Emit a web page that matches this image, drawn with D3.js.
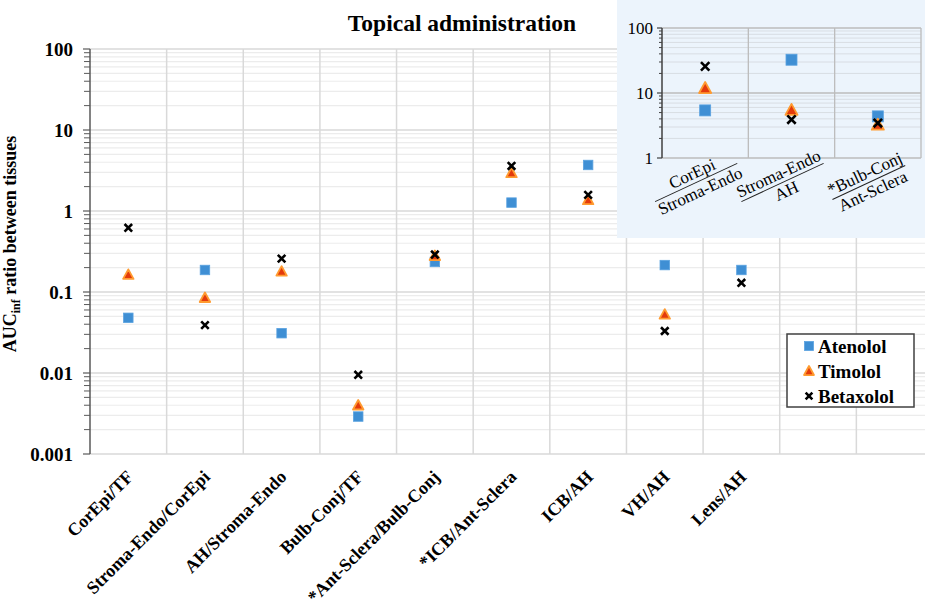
<!DOCTYPE html>
<html><head><meta charset="utf-8">
<script src="https://cdn.jsdelivr.net/npm/d3@7"></script>
<style>
body{margin:0;background:#fff}
svg{display:block}
text{font-family:"Liberation Serif","Times New Roman",serif;fill:#000}
</style>
</head><body><svg id="c" width="925" height="605"></svg>
<script>
// ---------- data ----------
const categories = ["CorEpi/TF","Stroma-Endo/CorEpi","AH/Stroma-Endo","Bulb-Conj/TF","*Ant-Sclera/Bulb-Conj","*ICB/Ant-Sclera","ICB/AH","VH/AH","Lens/AH"];
const atenolol  = [0.048, 0.187, 0.031, 0.0029, 0.235, 1.27, 3.7, 0.215, 0.187];
const timolol   = [0.164, 0.085, 0.18, 0.0040, 0.28, 2.95, 1.37, 0.053, null];
const betaxolol = [0.62, 0.039, 0.258, 0.0095, 0.29, 3.6, 1.58, 0.033, 0.13];
const yTicks = [0.001, 0.01, 0.1, 1, 10, 100];
const yTickLabels = ["0.001","0.01","0.1","1","10","100"];
const seriesNames = ["Atenolol","Timolol","Betaxolol"];

const insetNumerators   = ["CorEpi","Stroma-Endo","*Bulb-Conj"];
const insetDenominators = ["Stroma-Endo","AH","Ant-Sclera"];
const insetAtenolol  = [5.4, 32.5, 4.37];
const insetTimolol   = [11.9, 5.5, 3.25];
const insetBetaxolol = [25.7, 3.9, 3.45];
const insetTicks = [1, 10, 100];
const insetTickLabels = ["1","10","100"];

// ---------- setup ----------
const svg = d3.select("#c");
const nBands = 11;
const x = d3.scaleBand().domain(d3.range(nBands)).range([90, 933]).padding(0);
const y = d3.scaleLog().domain([0.001, 100]).range([454, 49]);

function minorValues(domain){
  const out=[];
  for(let d=domain[0]; d<domain[1]*0.999; d*=10){
    for(let k=2;k<=9;k++) out.push(d*k);
  }
  return out;
}

function marker(g, type, cx, cy, s){
  if(type===0){
    g.append("rect").attr("x",cx-s/2).attr("y",cy-s/2).attr("width",s).attr("height",s)
      .attr("fill","#3f8fd4").attr("stroke","#5aa2e0").attr("stroke-width",0.8);
  } else if(type===1){
    const h=s*1.0, w=s*1.1;
    g.append("path").attr("d",`M${cx},${cy-h*0.55}L${cx+w/2},${cy+h*0.45}L${cx-w/2},${cy+h*0.45}Z`)
      .attr("fill","#e33a0c").attr("stroke","#ff9b30").attr("stroke-width",1.8).attr("stroke-linejoin","round");
  } else {
    const r=s*0.42;
    g.append("path").attr("d",`M${cx-r},${cy-r}L${cx+r},${cy+r}M${cx-r},${cy+r}L${cx+r},${cy-r}`)
      .attr("stroke","#000").attr("stroke-width",2.6).attr("fill","none");
  }
}

// ---------- main chart ----------
const main = svg.append("g");
main.append("g").selectAll("line").data(minorValues([0.001,100])).join("line")
  .attr("x1",90).attr("x2",933).attr("y1",d=>y(d)).attr("y2",d=>y(d))
  .attr("stroke","#ececec").attr("stroke-width",1.2);
main.append("g").selectAll("line").data(yTicks).join("line")
  .attr("x1",90).attr("x2",933).attr("y1",d=>y(d)).attr("y2",d=>y(d))
  .attr("stroke","#d9d9d9").attr("stroke-width",1.5);
main.append("g").selectAll("line").data(d3.range(1,nBands+1)).join("line")
  .attr("x1",d=>x.range()[0]+d*x.bandwidth()).attr("x2",d=>x.range()[0]+d*x.bandwidth())
  .attr("y1",y(100)).attr("y2",y(0.001))
  .attr("stroke","#d9d9d9").attr("stroke-width",1.5);

// y axis
const yAxis = main.append("g").attr("transform","translate(90,0)");
yAxis.append("line").attr("x1",0).attr("x2",0).attr("y1",y(100)).attr("y2",y(0.001)).attr("stroke","#595959").attr("stroke-width",1.5);
yAxis.selectAll("line.maj").data(yTicks).join("line").attr("class","maj")
  .attr("x1",-7).attr("x2",0).attr("y1",d=>y(d)).attr("y2",d=>y(d)).attr("stroke","#595959").attr("stroke-width",1.2);
yAxis.selectAll("line.min").data(minorValues([0.001,100])).join("line").attr("class","min")
  .attr("x1",-6).attr("x2",0).attr("y1",d=>y(d)).attr("y2",d=>y(d)).attr("stroke","#595959").attr("stroke-width",1);
yAxis.selectAll("text").data(yTicks).join("text")
  .attr("x",-17).attr("y",d=>y(d)).attr("dy","0.35em").attr("text-anchor","end")
  .attr("font-size",19).attr("font-weight","bold").text((d,i)=>yTickLabels[i]);

// y title
const yt = main.append("text").attr("transform","translate(16,244) rotate(-90)")
  .attr("text-anchor","middle").attr("font-size",18).attr("font-weight","bold");
yt.append("tspan").text("AUC");
yt.append("tspan").attr("font-size",12).attr("dy",4).text("inf");
yt.append("tspan").attr("dy",-4).text(" ratio between tissues");

// x labels
main.append("g").selectAll("text").data(categories).join("text")
  .attr("transform",(d,i)=>`translate(${x(i)+x.bandwidth()/2+6},${478}) rotate(-45)`)
  .attr("text-anchor","end").attr("font-size",18).attr("font-weight","bold").text(d=>d);

// title
main.append("text").attr("x",462).attr("y",31).attr("text-anchor","middle")
  .attr("font-size",23.5).attr("font-weight","bold").text("Topical administration");

// points
const series=[atenolol,timolol,betaxolol];
const pts = main.append("g");
series.forEach((vals,si)=>{
  vals.forEach((v,i)=>{ if(v!=null) marker(pts,si,x(i)+x.bandwidth()/2,y(v),si===2?9:9.5); });
});

// legend
const lg = main.append("g");
lg.append("rect").attr("x",787).attr("y",334).attr("width",127).attr("height",73)
  .attr("fill","#fff").attr("stroke","#404040").attr("stroke-width",1.5);
seriesNames.forEach((n,i)=>{
  const cy=346+i*25;
  marker(lg,i,809,cy,i===2?8:9);
  lg.append("text").attr("x",818).attr("y",cy).attr("dy","0.35em").attr("font-size",19).attr("font-weight","bold").text(n);
});

// ---------- inset ----------
const ins = svg.append("g");
ins.append("rect").attr("x",617).attr("y",0).attr("width",308).attr("height",238).attr("fill","#ecf4fc");
const ix = d3.scaleBand().domain(d3.range(3)).range([662,921]);
const iy = d3.scaleLog().domain([1,100]).range([158,28]);
ins.append("g").selectAll("line").data(minorValues([1,100])).join("line")
  .attr("x1",662).attr("x2",921).attr("y1",d=>iy(d)).attr("y2",d=>iy(d))
  .attr("stroke","#d8dde3").attr("stroke-width",1);
ins.append("g").selectAll("line").data(insetTicks).join("line")
  .attr("x1",662).attr("x2",921).attr("y1",d=>iy(d)).attr("y2",d=>iy(d))
  .attr("stroke","#bcbcbc").attr("stroke-width",1.3);
ins.append("g").selectAll("line").data([1,2,3]).join("line")
  .attr("x1",d=>662+d*ix.bandwidth()).attr("x2",d=>662+d*ix.bandwidth())
  .attr("y1",iy(100)).attr("y2",iy(1)).attr("stroke","#bcbcbc").attr("stroke-width",1.3);
const iya = ins.append("g").attr("transform","translate(662,0)");
iya.append("line").attr("y1",iy(100)).attr("y2",iy(1)).attr("stroke","#404040").attr("stroke-width",1.5);
iya.selectAll("line.maj").data(insetTicks).join("line").attr("class","maj")
  .attr("x1",-5).attr("x2",0).attr("y1",d=>iy(d)).attr("y2",d=>iy(d)).attr("stroke","#404040").attr("stroke-width",1.2);
iya.selectAll("line.min").data(minorValues([1,100])).join("line").attr("class","min")
  .attr("x1",-3).attr("x2",0).attr("y1",d=>iy(d)).attr("y2",d=>iy(d)).attr("stroke","#404040").attr("stroke-width",1);
iya.selectAll("text").data(insetTicks).join("text")
  .attr("x",-9).attr("y",d=>iy(d)).attr("dy","0.35em").attr("text-anchor","end")
  .attr("font-size",17).text((d,i)=>insetTickLabels[i]);

// inset x labels (fractions)
insetNumerators.forEach((num,i)=>{
  const cx = ix(i)+ix.bandwidth()/2 - 9, cy = 158 + 24.5;
  const g = ins.append("g").attr("transform",`translate(${cx},${cy}) rotate(-25)`);
  const t1 = g.append("text").attr("x",0).attr("y",-4).attr("text-anchor","middle").attr("font-size",17).text(num);
  const t2 = g.append("text").attr("x",0).attr("y",15).attr("text-anchor","middle").attr("font-size",17).text(insetDenominators[i]);
  const w = Math.max(t1.node().getComputedTextLength(), t2.node().getComputedTextLength());
  g.append("line").attr("x1",-w/2).attr("x2",w/2).attr("y1",0).attr("y2",0).attr("stroke","#222").attr("stroke-width",1);
});

const iseries=[insetAtenolol,insetTimolol,insetBetaxolol];
iseries.forEach((vals,si)=>{
  vals.forEach((v,i)=>{ marker(ins,si,ix(i)+ix.bandwidth()/2,iy(v),si===2?10:11); });
});
</script>
</body></html>
